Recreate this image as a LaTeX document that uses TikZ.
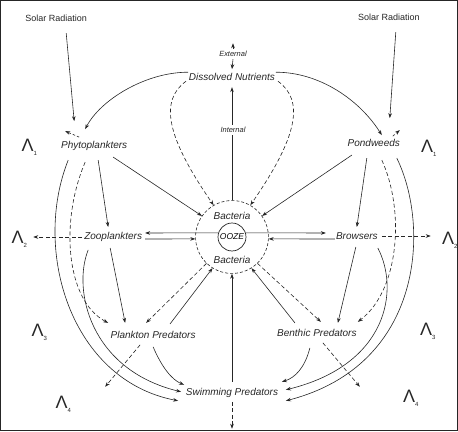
\documentclass[tikz,border=0pt]{standalone}
\usepackage{fontspec}
\setmainfont{Liberation Sans}
\usetikzlibrary{arrows.meta,calc}
\begin{document}
\begin{tikzpicture}[x=1pt,y=-1pt,
  every path/.style={draw=black!85,line width=0.6pt},
  lbl/.style={font=\fontsize{10}{12}\selectfont\itshape,inner sep=1pt,text=black!85},
  sol/.style={font=\fontsize{9}{11}\selectfont,inner sep=1pt,text=black!85},
  tiny/.style={font=\fontsize{7.5}{9}\selectfont\itshape,inner sep=1pt,text=black!85},
  lam/.style={inner sep=0pt,text=black!85},
  arr/.style={-{Stealth[length=5pt,width=3.6pt]}},
  dsh/.style={arr,dash pattern=on 4pt off 2.5pt},
  ringst/.style={circle,draw=black!85,dash pattern=on 3pt off 2pt,minimum size=73pt,inner sep=0pt},
  oozest/.style={circle,draw=black!85,line width=0.7pt,minimum size=28pt,inner sep=0pt,font=\fontsize{8.5}{10}\selectfont\itshape}]
\newcommand{\Lam}[1]{{\fontsize{18}{18}\selectfont Λ}\raisebox{-4pt}{\fontsize{6}{6}\selectfont #1}}
\useasboundingbox (0,0) rectangle (458,431);

% nodes
\node[sol] (solL) at (56,18) {Solar Radiation};
\node[sol] (solR) at (389,17) {Solar Radiation};
\node[lbl] (DN) at (232,77) {Dissolved Nutrients};
\node[tiny] (ext) at (233,54) {External};
\node[lbl] (phyto) at (94,146) {Phytoplankters};
\node[lbl] (pond) at (374,143) {Pondweeds};
\node[lbl] (zoo) at (113,237) {Zooplankters};
\node[lbl] (brow) at (357,236) {Browsers};
\node[ringst] (ring) at (232,237) {};
\node[oozest] (ooze) at (232,237) {OOZE};
\node[lbl] (bactT) at (232,216) {Bacteria};
\node[lbl] (bactB) at (232,260) {Bacteria};
\node[lbl] (plank) at (153,335) {Plankton Predators};
\node[lbl] (benth) at (317,333) {Benthic Predators};
\node[lbl] (swim) at (232,393) {Swimming Predators};
\node[lam] (lamAL) at (29,147) {\Lam{1}};
\node[lam] (lamAR) at (429,148) {\Lam{1}};
\node[lam] (lamBL) at (19,239) {\Lam{2}};
\node[lam] (lamBR) at (450,240) {\Lam{2}};
\node[lam] (lamCL) at (39,332) {\Lam{3}};
\node[lam] (lamCR) at (428,331) {\Lam{3}};
\node[lam] (lamDL) at (63,405) {\Lam{4}};
\node[lam] (lamDR) at (411,399) {\Lam{4}};
\coordinate (bottom) at ($(swim)+(0,36)$);

% solar radiation
\draw[arr] ($(solL)+(10,15)$) -- ($(phyto)+(-20,-25)$);
\draw[arr] ($(solR)+(7,15)$) -- ($(pond)+(16,-25)$);
\draw[dsh,dash pattern=on 2.5pt off 2pt] ($(phyto)+(-15,-9)$) -- ($(phyto)+(-29,-15)$);
\draw[dsh,dash pattern=on 2.5pt off 2pt] ($(pond)+(19,-7)$) -- ($(pond)+(26,-13)$);

% external / internal
\draw[arr] ($(ext)+(0,-5)$) -- ($(ext)+(0,-11)$);
\draw[arr] ($(ext)+(0,5)$) -- ($(DN)+(0,-8)$);
\draw[arr] (ring.north) -- ($(DN)+(0,10)$);
\node[tiny,fill=white,inner sep=2pt] (int) at (233,130) {Internal};

% nutrients to producers
\draw[arr] ($(DN)+(-44,-5)$) .. controls (145,72) and (100,100) .. ($(phyto)+(-9,-17)$);
\draw[arr] ($(DN)+(44,-5)$) .. controls (320,72) and (360,100) .. ($(pond)+(8,-8)$);
\draw[dsh] ($(DN)+(-46,4)$) .. controls (160,100) and (165,135) .. (ring.120);
\draw[dsh] ($(DN)+(46,4)$) .. controls (304,100) and (299,135) .. (ring.60);

% producers
\draw[arr] ($(phyto)+(19,11)$) -- (ring.145);
\draw[arr] ($(pond)+(-22,12)$) -- (ring.35);
\draw[arr] ($(phyto)+(4,14)$) -- ($(zoo)+(-5,-10)$);
\draw[arr] ($(pond)+(-7,15)$) -- ($(brow)+(0,-9)$);
\draw[arr] ($(phyto)+(-26,14)$) .. controls (32,250) and (70,380) .. ($(swim)+(-54,8)$);
\draw[dsh] ($(phyto)+(-9,16)$) .. controls (60,220) and (65,300) .. ($(plank)+(-45,-12)$);
\draw[arr] ($(pond)+(23,15)$) .. controls (430,225) and (425,365) .. ($(swim)+(54,8)$);
\draw[dsh] ($(pond)+(8,17)$) .. controls (405,210) and (400,290) .. ($(benth)+(41,-11)$);

% ooze exchanges
\draw[arr] (ooze.163) -- ($(zoo)+(32,-4)$);
\draw[arr] ($(zoo)+(32,2)$) -- (ring.183);
\draw[arr] (ooze.17) -- ($(brow)+(-31,-3)$);
\draw[arr] ($(brow)+(-22,3)$) -- (ring.357);
\draw[dsh] ($(zoo)+(-31,0)$) -- ($(lamBL)+(14,-2)$);
\draw[dsh] ($(brow)+(25,0)$) -- ($(lamBR)+(-19,-4)$);

% consumers
\draw[arr] ($(zoo)+(-3,11)$) -- ($(plank)+(-28,-12)$);
\draw[arr] ($(zoo)+(-25,13)$) .. controls (72,290) and (90,370) .. ($(swim)+(-51,-1)$);
\draw[arr] ($(brow)+(-1,11)$) -- ($(benth)+(21,-10)$);
\draw[arr] ($(brow)+(21,12)$) .. controls (400,290) and (388,365) .. ($(swim)+(54,-3)$);
\draw[dsh] (ring.226) -- ($(plank)+(-7,-12)$);
\draw[arr] ($(plank)+(17,-11)$) -- (ring.238);
\draw[dsh] (ring.314) -- ($(benth)+(4,-11)$);
\draw[arr] ($(benth)+(-22,-10)$) -- (ring.302);
\draw[arr] ($(plank)+(0,12)$) .. controls (162,368) and (172,380) .. ($(swim)+(-48,-8)$);
\draw[arr] ($(benth)+(-7,15)$) .. controls (305,368) and (295,378) .. ($(swim)+(50,-11)$);
\draw[dsh] ($(plank)+(-13,10)$) -- ($(plank)+(-48,52)$);
\draw[dsh] ($(benth)+(6,10)$) -- ($(benth)+(43,54)$);
\draw[arr] ($(swim)+(0,-11)$) -- (ring.south);
\draw[dsh] ($(swim)+(0,9)$) -- (bottom);
\end{tikzpicture}
\end{document}
